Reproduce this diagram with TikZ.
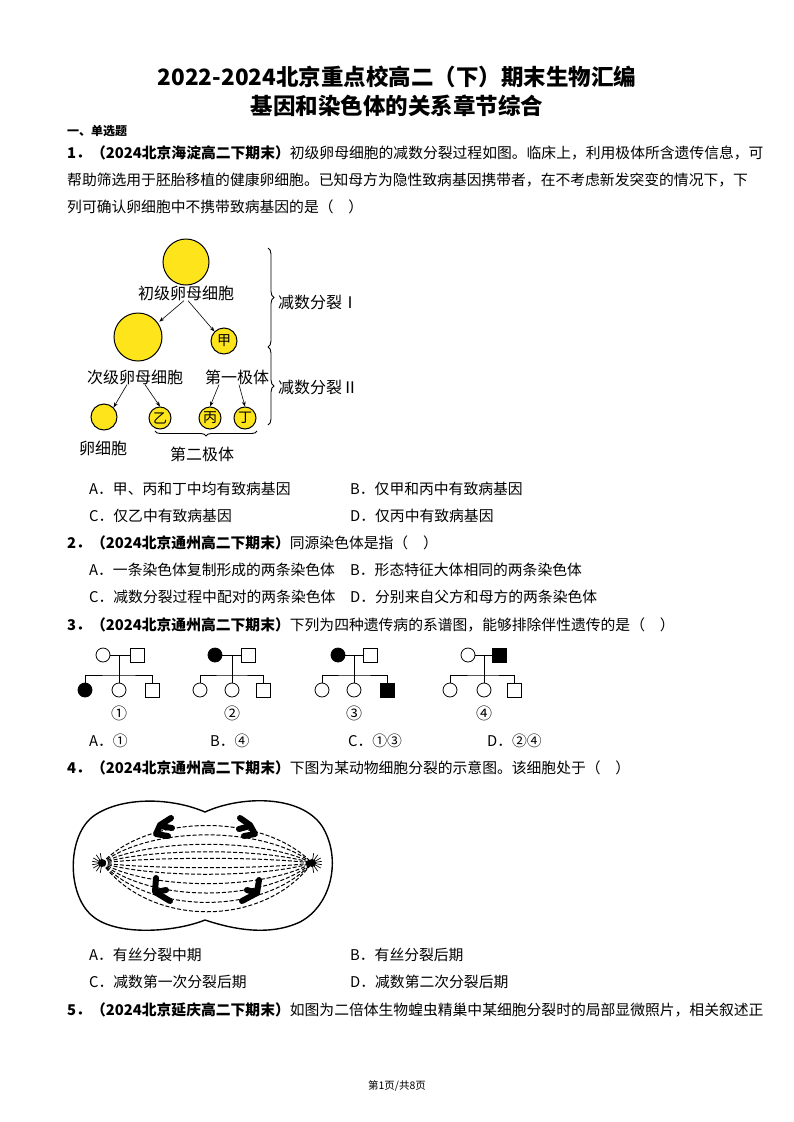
\documentclass[tikz,border=0pt]{standalone}
\usepackage{fontspec}
\setmainfont{Noto Sans CJK SC}
\usetikzlibrary{arrows.meta,decorations.pathreplacing}
\begin{document}
\begin{tikzpicture}[x=1pt,y=-1pt,
  txt/.style={anchor=west,inner sep=0,font=\fontsize{14.8}{17}\selectfont},
  lab/.style={inner sep=0,font=\fontsize{16}{18}\selectfont},
  cell/.style={circle,draw=black,line width=1pt,fill=yellow!85!orange!90,inner sep=0,minimum size=#1,font=\fontsize{14}{16}\selectfont},
  arr/.style={-{Stealth[length=5pt]},line width=0.6pt},
  fem/.style={circle,draw,line width=0.8pt,minimum size=14pt,inner sep=0},
  mal/.style={rectangle,draw,line width=0.8pt,minimum size=14pt,inner sep=0},
  aff/.style={fill=black},
  pl/.style={line width=0.8pt},
  spd/.style={dashed,dash pattern=on 4pt off 2pt,line width=1pt}]
\useasboundingbox (0,0) rectangle (794,1122);
\fill[white] (0,0) rectangle (794,1122);
% title
\node[font=\fontsize{22.5}{25}\selectfont\bfseries] (t1) at (397,77) {2022-2024北京重点校高二（下）期末生物汇编};
\node[font=\fontsize{22.5}{25}\selectfont\bfseries] (t2) at (397,106) {基因和染色体的关系章节综合};
\node[txt,font=\fontsize{12}{14}\selectfont\bfseries] (s1) at (67,131) {一、单选题};
% Q1
\node[txt] (q1a) at (67,153) {\textbf{1．（2024北京海淀高二下期末）}初级卵母细胞的减数分裂过程如图。临床上，利用极体所含遗传信息，可};
\node[txt] (q1b) at (67,180) {帮助筛选用于胚胎移植的健康卵细胞。已知母方为隐性致病基因携带者，在不考虑新发突变的情况下，下};
\node[txt] (q1c) at (67,207) {列可确认卵细胞中不携带致病基因的是（\quad）};
% figure 1
\node[cell=46pt] (c0) at (186,262) {};
\node[lab] (l0) at (186,293) {初级卵母细胞};
\node[cell=48pt] (c1) at (138,337) {};
\node[cell=26pt] (cj) at (224,341) {甲};
\node[lab] (l1) at (135,377) {次级卵母细胞};
\node[lab] (l2) at (237,377) {第一极体};
\node[cell=26pt] (egg) at (104,417) {};
\node[cell=22pt] (cy) at (160,418) {乙};
\node[cell=22pt] (cb) at (210,418) {丙};
\node[cell=22pt] (cd) at (245,418) {丁};
\node[lab] (l3) at (103,448) {卵细胞};
\node[lab] (l4) at (202,454) {第二极体};
\draw[arr] ([xshift=-2pt]l0.south) -- ([xshift=4pt,yshift=-2pt]c1.north east);
\draw[arr] ([xshift=2pt]l0.south) -- (cj.north west);
\draw[arr] ([xshift=-8pt]l1.south) -- (egg.north east);
\draw[arr] ([xshift=10pt]l1.south) -- (cy.north);
\draw[arr] ([xshift=-18pt]l2.south) -- (cb.north);
\draw[arr] ([xshift=2pt]l2.south) -- (cd.north);
\coordinate (bt) at (268,248); \coordinate (bm) at (268,347); \coordinate (bb) at (268,425);
\draw[line width=0.9pt,decorate,decoration={brace,amplitude=6pt}] (bt) -- (bm);
\draw[line width=0.9pt,decorate,decoration={brace,amplitude=6pt}] (bm) -- (bb);
\node[lab,anchor=west] (m1) at (278,302) {减数分裂Ⅰ};
\node[lab,anchor=west] (m2) at (278,387) {减数分裂Ⅱ};
\coordinate (b2r) at (257,431); \coordinate (b2l) at (155,431);
\draw[line width=0.9pt,decorate,decoration={brace,amplitude=5pt}] (b2r) -- (b2l);
% Q1 options
\node[txt] (o1a) at (89,489) {A．甲、丙和丁中均有致病基因};
\node[txt] (o1b) at (350,489) {B．仅甲和丙中有致病基因};
\node[txt] (o1c) at (89,516) {C．仅乙中有致病基因};
\node[txt] (o1d) at (350,516) {D．仅丙中有致病基因};
% Q2
\node[txt] (q2) at (67,543) {\textbf{2．（2024北京通州高二下期末）}同源染色体是指（\quad）};
\node[txt] (o2a) at (89,570) {A．一条染色体复制形成的两条染色体};
\node[txt] (o2b) at (350,570) {B．形态特征大体相同的两条染色体};
\node[txt] (o2c) at (89,597) {C．减数分裂过程中配对的两条染色体};
\node[txt] (o2d) at (350,597) {D．分别来自父方和母方的两条染色体};
% Q3
\node[txt] (q3) at (67,625) {\textbf{3．（2024北京通州高二下期末）}下列为四种遗传病的系谱图，能够排除伴性遗传的是（\quad）};
% pedigree 1
\node[fem] (p1f) at (103,655) {}; \node[mal] (p1m) at (137,655) {};
\node[fem,aff] (p1a) at (85,690) {}; \node[fem] (p1b) at (119,690) {}; \node[mal] (p1c) at (152,690) {};
\draw[pl] (p1f) -- (p1m); \draw[pl] (119,655) -- (119,675); \draw[pl] (p1a.north) |- (119,675) -| (p1c.north); \draw[pl] (119,675) -- (p1b.north);
\node[lab] (n1) at (119,713) {①};
% pedigree 2
\node[fem,aff] (p2f) at (215,655) {}; \node[mal] (p2m) at (248,655) {};
\node[fem] (p2a) at (200,690) {}; \node[fem] (p2b) at (232,690) {}; \node[mal] (p2c) at (263,690) {};
\draw[pl] (p2f) -- (p2m); \draw[pl] (232,655) -- (232,675); \draw[pl] (p2a.north) |- (232,675) -| (p2c.north); \draw[pl] (232,675) -- (p2b.north);
\node[lab] (n2) at (232,713) {②};
% pedigree 3
\node[fem,aff] (p3f) at (338,655) {}; \node[mal] (p3m) at (370,655) {};
\node[fem] (p3a) at (322,690) {}; \node[fem] (p3b) at (354,690) {}; \node[mal,aff] (p3c) at (387,690) {};
\draw[pl] (p3f) -- (p3m); \draw[pl] (354,655) -- (354,675); \draw[pl] (p3a.north) |- (354,675) -| (p3c.north); \draw[pl] (354,675) -- (p3b.north);
\node[lab] (n3) at (354,713) {③};
% pedigree 4
\node[fem] (p4f) at (468,655) {}; \node[mal,aff] (p4m) at (499,655) {};
\node[fem] (p4a) at (450,690) {}; \node[fem] (p4b) at (484,690) {}; \node[mal] (p4c) at (514,690) {};
\draw[pl] (p4f) -- (p4m); \draw[pl] (484,655) -- (484,675); \draw[pl] (p4a.north) |- (484,675) -| (p4c.north); \draw[pl] (484,675) -- (p4b.north);
\node[lab] (n4) at (484,713) {④};
% Q3 options
\node[txt] (o3a) at (89,741) {A．①};
\node[txt] (o3b) at (210,741) {B．④};
\node[txt] (o3c) at (348,741) {C．①③};
\node[txt] (o3d) at (487,741) {D．②④};
% Q4
\node[txt] (q4) at (67,768) {\textbf{4．（2024北京通州高二下期末）}下图为某动物细胞分裂的示意图。该细胞处于（\quad）};
% cell figure
\draw[line width=1.4pt] (205,812) .. controls (240,796) and (300,794) .. (322,826) .. controls (342,858) and (332,905) .. (300,922) .. controls (270,936) and (235,930) .. (205,920) .. controls (175,932) and (120,936) .. (95,918) .. controls (66,898) and (66,834) .. (95,815) .. controls (122,797) and (170,797) .. (205,812) -- cycle;
\coordinate (pL) at (102,863); \coordinate (pR) at (312,863);
\foreach \d in {-40,-30,-20,-12,-5,5,12,22,32,42,52} {
  \draw[spd] (pL) .. controls (150,863+1.25*\d) and (264,863+1.25*\d) .. (pR);
}
\foreach \a in {100,125,150,170,190,210,235,260} {
  \draw[line width=0.7pt] (pL) -- ++(\a:10);
}
\foreach \a in {-80,-55,-30,-10,10,30,55,80} {
  \draw[line width=0.7pt] (pR) -- ++(\a:10);
}
\fill (pL) circle (4pt); \fill (pR) circle (4pt);
\begin{scope}[line width=6pt,line cap=round,line join=round]
\draw (171,818) -- (160,825) -- (156,834) -- (168,836);
\draw (160,826) -- (172,828);
\draw (240,818) -- (250,825) -- (255,834) -- (244,836);
\draw (250,826) -- (239,829);
\draw (156,878) -- (155,892) -- (170,901);
\draw (156,892) -- (166,890);
\draw (259,880) -- (257,893) -- (242,901);
\draw (257,893) -- (247,890);
\end{scope}
% Q4 options
\node[txt] (o4a) at (89,955) {A．有丝分裂中期};
\node[txt] (o4b) at (350,955) {B．有丝分裂后期};
\node[txt] (o4c) at (89,982) {C．减数第一次分裂后期};
\node[txt] (o4d) at (350,982) {D．减数第二次分裂后期};
% Q5
\node[txt] (q5) at (67,1010) {\textbf{5．（2024北京延庆高二下期末）}如图为二倍体生物蝗虫精巢中某细胞分裂时的局部显微照片，相关叙述正};
\node[font=\fontsize{10.5}{12}\selectfont] (ft) at (397,1086) {第1页/共8页};
\end{tikzpicture}
\end{document}
